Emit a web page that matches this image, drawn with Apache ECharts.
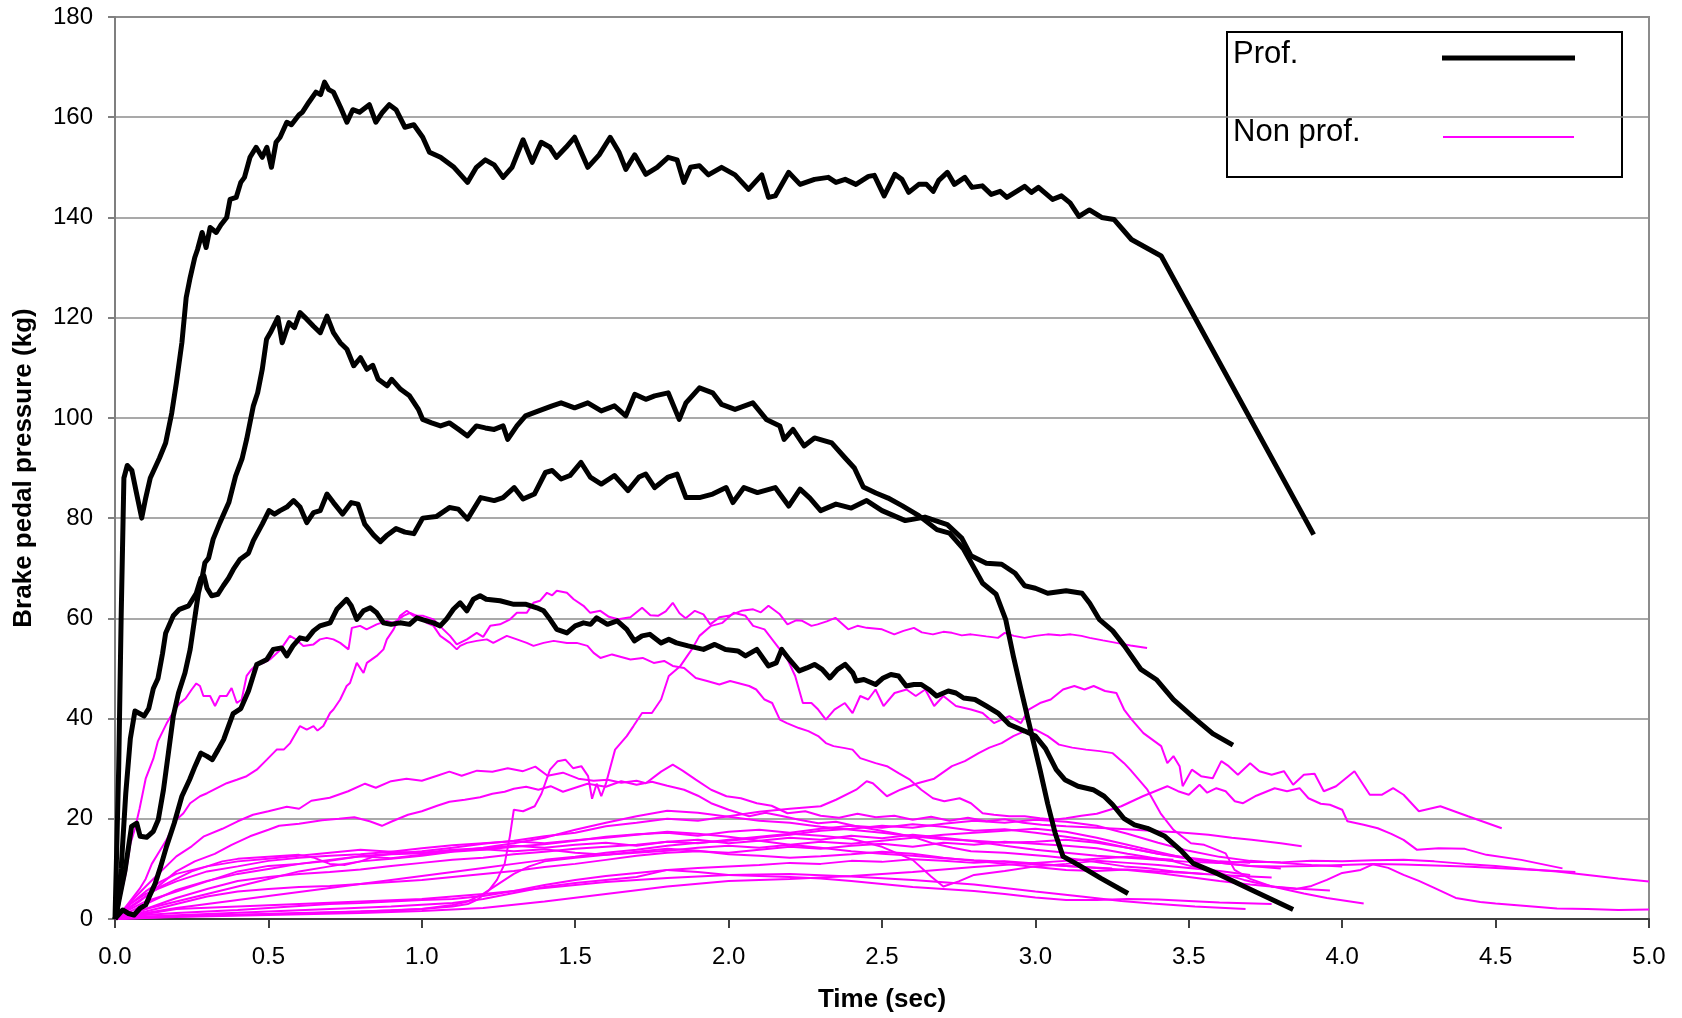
<!DOCTYPE html>
<html>
<head>
<meta charset="utf-8">
<title>Brake pedal pressure</title>
<script src="https://cdn.jsdelivr.net/npm/echarts@6/dist/echarts.min.js"></script>
<style>
html, body { margin: 0; padding: 0; background: #fff; }
#chart { width: 1682px; height: 1018px; }
</style>
</head>
<body>
<div id="chart"></div>
<script>
// time (sec) , pressure (kg) pairs

// professional drivers
var prof1 = [[0,0],[0.005,0],[0.012,30],[0.02,60],[0.029,88],[0.04,90.5],[0.055,89.5],[0.07,85],[0.087,80],[0.1,84],[0.115,88],[0.145,92],[0.165,95],[0.185,101],[0.2,107],[0.218,115],[0.232,124],[0.245,128],[0.26,132],[0.269,133.6],[0.284,137],[0.297,134],[0.31,138],[0.33,137],[0.345,138.5],[0.364,140],[0.375,143.6],[0.395,144],[0.41,147],[0.422,148],[0.44,152],[0.46,154],[0.48,152],[0.495,154],[0.51,150],[0.525,155],[0.538,156],[0.56,159],[0.575,158.5],[0.6,160.5],[0.611,161],[0.632,163],[0.655,165],[0.67,164.5],[0.683,167],[0.697,165.5],[0.712,165],[0.735,162],[0.756,159],[0.775,161.5],[0.797,161],[0.829,162.5],[0.85,159],[0.872,161],[0.894,162.5],[0.916,161.5],[0.945,158],[0.974,158.5],[1.003,156],[1.025,153],[1.061,152],[1.105,150],[1.149,147],[1.178,150],[1.207,151.5],[1.236,150.5],[1.265,148],[1.294,150],[1.33,155.5],[1.36,151],[1.389,155],[1.418,154],[1.439,152],[1.47,154],[1.498,156],[1.541,150],[1.578,152.5],[1.614,156],[1.643,153],[1.665,149.6],[1.694,152.5],[1.73,148.6],[1.767,150],[1.803,152],[1.832,151.5],[1.854,147],[1.876,150],[1.905,150.3],[1.934,148.5],[1.977,150],[2.021,148.5],[2.065,145.6],[2.108,148.5],[2.13,144],[2.152,144.3],[2.196,149],[2.233,146.6],[2.28,147.6],[2.325,148],[2.35,147],[2.38,147.6],[2.415,146.6],[2.456,148.2],[2.475,148.4],[2.507,144.3],[2.542,148.6],[2.565,147.6],[2.587,145],[2.62,146.6],[2.645,146.6],[2.667,145.2],[2.685,147.4],[2.713,149],[2.736,146.6],[2.77,148],[2.793,146],[2.827,146.3],[2.856,144.6],[2.885,145.2],[2.907,144],[2.965,146.2],[2.987,145],[3.01,146],[3.056,143.6],[3.085,144.3],[3.113,142.9],[3.142,140.2],[3.176,141.5],[3.216,140],[3.256,139.6],[3.313,135.6],[3.41,132.3],[3.907,76.7]];
var prof2 = [[0,0],[0.011,3.1],[0.033,9.8],[0.054,18.5],[0.071,19.1],[0.082,16.5],[0.103,16.3],[0.125,17.5],[0.141,19.8],[0.158,25.8],[0.174,33.1],[0.19,40.5],[0.207,45.1],[0.228,49.1],[0.245,53.8],[0.261,60.5],[0.272,65.1],[0.283,67.8],[0.293,71.1],[0.305,72],[0.32,75.8],[0.342,79.1],[0.371,83.1],[0.393,88.4],[0.414,91.8],[0.429,95.7],[0.451,102.4],[0.465,105],[0.48,109.7],[0.494,115.7],[0.509,117.3],[0.531,120],[0.545,115],[0.567,119],[0.585,118],[0.603,121],[0.625,119.7],[0.647,118.3],[0.669,117],[0.691,120.3],[0.712,117],[0.734,115],[0.756,113.7],[0.778,110.4],[0.8,112],[0.821,109.7],[0.84,110.5],[0.858,107.7],[0.887,106.4],[0.902,107.7],[0.931,105.7],[0.96,104.4],[0.989,101.7],[1.003,99.7],[1.032,99],[1.061,98.4],[1.09,99],[1.12,97.7],[1.149,96.4],[1.178,98.4],[1.207,98],[1.236,97.7],[1.265,98.4],[1.28,95.7],[1.31,98.4],[1.338,100.4],[1.381,101.4],[1.425,102.4],[1.454,103],[1.498,102],[1.541,103],[1.585,101.4],[1.628,102.4],[1.665,100.4],[1.694,104.7],[1.73,103.7],[1.759,104.4],[1.803,105],[1.839,99.7],[1.861,103],[1.905,106],[1.948,105],[1.977,102.7],[2.021,101.7],[2.079,103],[2.123,99.7],[2.167,98.4],[2.181,95.7],[2.21,97.7],[2.246,94.4],[2.28,96],[2.336,95],[2.38,92],[2.41,90],[2.439,86.2],[2.48,85],[2.52,84],[2.565,82.5],[2.62,80.5],[2.679,77.7],[2.72,77],[2.766,73.8],[2.828,67],[2.872,64.8],[2.903,59.8],[2.928,52.5],[2.953,45.8],[2.984,37.8],[3.015,29.8],[3.04,23],[3.065,17],[3.09,12.5],[3.14,10.8],[3.214,8.1],[3.302,5.1]];
var prof3 = [[0,0],[0.008,2],[0.02,10],[0.035,25],[0.05,36],[0.065,41.5],[0.08,41],[0.095,40.5],[0.11,42],[0.125,46],[0.14,48],[0.155,53],[0.165,57],[0.19,60.5],[0.21,61.8],[0.24,62.5],[0.265,65],[0.28,68],[0.29,68.5],[0.3,66],[0.315,64.5],[0.335,64.8],[0.353,66.5],[0.37,68],[0.386,69.8],[0.408,71.8],[0.435,73],[0.451,75.5],[0.48,78.8],[0.502,81.5],[0.52,80.8],[0.538,81.5],[0.56,82.2],[0.582,83.5],[0.603,82.2],[0.625,79.1],[0.647,81.1],[0.669,81.5],[0.691,84.8],[0.712,83.1],[0.742,80.8],[0.77,83.1],[0.792,82.8],[0.814,78.8],[0.843,76.6],[0.865,75.3],[0.887,76.6],[0.916,77.9],[0.945,77.2],[0.974,76.9],[1.003,80],[1.047,80.3],[1.09,82.1],[1.119,81.8],[1.149,79.8],[1.192,84.1],[1.236,83.5],[1.265,84.1],[1.301,86.1],[1.33,83.8],[1.367,84.8],[1.403,89.1],[1.425,89.5],[1.454,87.8],[1.483,88.5],[1.519,91.1],[1.549,88.2],[1.585,86.8],[1.628,88.5],[1.672,85.5],[1.708,88.2],[1.73,88.8],[1.759,86.1],[1.803,88.2],[1.832,88.8],[1.861,84.1],[1.905,84.1],[1.948,84.8],[1.992,86.1],[2.014,83.1],[2.05,86.1],[2.094,85.1],[2.152,86.1],[2.196,82.4],[2.233,85.8],[2.265,84],[2.3,81.5],[2.35,82.8],[2.4,82],[2.45,83.5],[2.5,81.5],[2.576,79.5],[2.64,80.2],[2.713,78.7],[2.76,76],[2.79,72.5],[2.84,71],[2.89,70.8],[2.934,69],[2.965,66.5],[3.0,66],[3.04,65],[3.1,65.5],[3.152,65],[3.177,63],[3.208,59.8],[3.252,57.5],[3.29,54.5],[3.344,49.8],[3.394,47.8],[3.45,43.8],[3.52,40],[3.578,37],[3.644,34.7]];
var prof4 = [[0,0],[0.006,0.5],[0.025,1.8],[0.044,1.1],[0.062,0.8],[0.081,2.1],[0.1,2.8],[0.112,4.5],[0.131,7.1],[0.149,10.5],[0.168,14.5],[0.193,19.1],[0.218,24.5],[0.243,27.8],[0.261,30.5],[0.28,33.1],[0.299,32.5],[0.317,31.8],[0.336,33.8],[0.354,35.8],[0.37,38.5],[0.385,41],[0.41,42],[0.435,45.5],[0.462,50.8],[0.495,51.8],[0.516,53.8],[0.543,54.1],[0.56,52.5],[0.58,54.5],[0.603,56.1],[0.625,55.8],[0.647,57.5],[0.668,58.5],[0.701,59.1],[0.723,61.8],[0.739,62.8],[0.755,63.8],[0.77,62.5],[0.788,59.8],[0.81,61.5],[0.832,62.1],[0.853,61.1],[0.875,59.1],[0.9,58.8],[0.929,59.1],[0.96,58.8],[0.984,60.1],[1.01,59.6],[1.038,59.1],[1.06,58.5],[1.08,59.8],[1.103,61.8],[1.125,63.1],[1.147,61.5],[1.168,63.8],[1.19,64.5],[1.21,63.8],[1.255,63.5],[1.3,62.8],[1.34,62.8],[1.375,62.1],[1.397,61.5],[1.418,59.8],[1.44,57.8],[1.473,57.1],[1.5,58.5],[1.527,59.1],[1.55,58.8],[1.57,60.1],[1.605,58.8],[1.637,59.5],[1.668,57.8],[1.693,55.5],[1.718,56.5],[1.743,56.8],[1.78,55.1],[1.805,55.8],[1.83,55.1],[1.868,54.5],[1.918,53.8],[1.955,54.8],[1.99,53.8],[2.03,53.5],[2.055,52.5],[2.092,53.8],[2.13,50.5],[2.155,51.1],[2.173,53.8],[2.198,51.8],[2.23,49.5],[2.255,50.1],[2.28,50.8],[2.305,49.8],[2.33,48.1],[2.355,49.8],[2.38,50.8],[2.405,49.1],[2.416,47.5],[2.441,47.8],[2.479,46.8],[2.504,48.1],[2.529,48.8],[2.554,48.5],[2.579,46.5],[2.604,46.8],[2.628,46.8],[2.653,45.8],[2.678,44.5],[2.716,45.5],[2.741,45.1],[2.766,44.1],[2.803,43.8],[2.84,42.5],[2.878,41.1],[2.915,38.8],[2.965,37.5],[3.0,36.5],[3.033,34],[3.068,29.8],[3.096,27.8],[3.139,26.5],[3.188,25.8],[3.224,24.5],[3.252,22.8],[3.288,20.1],[3.323,18.8],[3.365,18.1],[3.422,16.5],[3.472,13.8],[3.514,11.1],[3.592,9.1],[3.705,5.8],[3.84,1.9]];

// non professional drivers
var non1 = [[0,0],[0.01,2],[0.02,5],[0.035,9],[0.05,15],[0.065,18],[0.08,22],[0.1,28],[0.125,32],[0.14,35.5],[0.168,39],[0.195,41.8],[0.21,43],[0.23,44],[0.25,45.8],[0.265,47],[0.277,46.5],[0.288,44.5],[0.31,44.5],[0.326,42.5],[0.342,44.5],[0.364,44.5],[0.38,46.1],[0.397,43.1],[0.413,43.8],[0.429,48.5],[0.445,49.8],[0.462,50.8],[0.484,51.1],[0.505,51.8],[0.54,53.8],[0.57,56.5],[0.59,55.8],[0.614,54.5],[0.647,54.8],[0.668,55.8],[0.69,56.1],[0.712,55.8],[0.734,55.1],[0.761,53.8],[0.772,58.1],[0.799,58.5],[0.82,57.8],[0.853,58.8],[0.886,59.5],[0.908,59.1],[0.94,60.5],[0.962,61.1],[0.984,60.5],[1.016,59.1],[1.038,58.5],[1.06,56.5],[1.092,55.1],[1.114,53.8],[1.125,54.5],[1.147,55.1],[1.179,55.5],[1.212,55.8],[1.233,55.1],[1.255,55.8],[1.277,56.5],[1.31,55.8],[1.342,55.1],[1.364,54.5],[1.397,55.1],[1.43,55.5],[1.473,55.1],[1.505,55.1],[1.54,54.5],[1.56,53.1],[1.582,52.1],[1.62,52.8],[1.68,51.8],[1.72,52.1],[1.756,51.1],[1.79,51.5],[1.818,50.5],[1.855,50.1],[1.893,48.1],[1.93,47.5],[1.97,46.8],[2.005,47.5],[2.03,47.1],[2.067,46.5],[2.09,45.8],[2.117,43.8],[2.142,43.1],[2.167,39.8],[2.19,39.1],[2.229,38.1],[2.26,37.5],[2.292,36.5],[2.317,35.1],[2.342,34.5],[2.379,34.1],[2.404,33.8],[2.429,32.1],[2.479,31.1],[2.516,30.5],[2.554,29.1],[2.591,27.8],[2.628,25.8],[2.666,24.1],[2.703,23.5],[2.753,24.1],[2.79,23.1],[2.828,21.1],[2.865,20.8],[2.915,20.5],[2.965,20.5],[3.015,20.1],[3.06,19.8],[3.1,20.1],[3.15,20.6],[3.2,21],[3.28,22.5],[3.35,24.5],[3.43,26.5],[3.465,25.5],[3.5,24.8],[3.535,26.8],[3.56,25.2],[3.59,26.1],[3.62,25.5],[3.65,23.5],[3.677,23.1],[3.72,24.6],[3.78,26.1],[3.82,25.5],[3.861,26.1],[3.89,24.1],[3.93,23],[3.96,22.8],[4.0,21.8],[4.017,19.5],[4.07,18.8],[4.116,18.1],[4.16,17],[4.2,15.8],[4.244,13.8],[4.314,14.1],[4.4,14],[4.47,12.8],[4.584,11.8],[4.718,10.1]];
var non2 = [[0,0],[0.015,1],[0.03,2],[0.055,4],[0.08,6],[0.1,8],[0.12,11],[0.15,14],[0.168,15.8],[0.2,19.8],[0.223,21.1],[0.245,23.1],[0.277,24.5],[0.3,25.1],[0.332,26.1],[0.364,27.1],[0.397,27.8],[0.429,28.5],[0.462,29.8],[0.495,31.8],[0.527,33.8],[0.55,33.8],[0.571,35.1],[0.603,38.5],[0.625,37.8],[0.647,38.5],[0.66,37.6],[0.679,38.5],[0.701,41.1],[0.712,41.8],[0.734,43.8],[0.755,46.5],[0.766,47.1],[0.788,51.1],[0.81,49.1],[0.821,51.1],[0.853,52.5],[0.875,53.8],[0.886,55.8],[0.908,57.8],[0.929,60.5],[0.951,61.5],[0.973,60.5],[1.005,60.5],[1.038,59.8],[1.07,57.8],[1.092,56.5],[1.114,54.8],[1.147,55.8],[1.179,57.1],[1.2,56.3],[1.223,58.5],[1.255,58.8],[1.288,59.8],[1.31,61.1],[1.342,61.1],[1.364,63.1],[1.385,63.5],[1.408,65.1],[1.425,64.6],[1.44,65.5],[1.473,65.1],[1.495,63.8],[1.527,62.5],[1.549,61.1],[1.582,61.5],[1.61,60.3],[1.64,59.8],[1.68,60.2],[1.718,62.1],[1.745,60.6],[1.77,60.5],[1.795,61.4],[1.818,63.1],[1.84,61],[1.86,60],[1.89,61.5],[1.918,60.8],[1.94,58.8],[1.97,60.2],[2.0,60.5],[2.042,61.5],[2.08,61.8],[2.105,61.2],[2.13,62.5],[2.167,60.8],[2.192,58.8],[2.22,59.6],[2.24,59.5],[2.27,58.5],[2.29,58.8],[2.32,59.4],[2.348,60.1],[2.39,57.8],[2.42,58.5],[2.45,58.1],[2.5,57.8],[2.54,56.8],[2.57,57.5],[2.604,58.1],[2.63,57.2],[2.666,56.8],[2.7,57.3],[2.728,57.1],[2.76,56.6],[2.79,56.8],[2.84,56.4],[2.878,56.1],[2.9,57.1],[2.93,56.5],[2.965,56.1],[3.0,56.5],[3.04,56.8],[3.08,56.6],[3.115,56.8],[3.15,56.5],[3.177,56.1],[3.22,55.6],[3.264,55.1],[3.31,54.6],[3.364,54.1]];
var non3 = [[0,0],[0.1,0.4],[0.2,0.6],[0.35,0.8],[0.5,1.0],[0.65,1.2],[0.8,1.5],[0.9,1.7],[1.0,2.0],[1.1,2.5],[1.15,3.0],[1.18,3.8],[1.22,5.8],[1.245,7.8],[1.27,11],[1.287,16.5],[1.3,21.8],[1.33,21.5],[1.368,22.5],[1.39,25],[1.418,29.8],[1.443,31.5],[1.468,31.8],[1.493,30.1],[1.52,30.5],[1.542,28.5],[1.555,24],[1.57,27],[1.585,24.5],[1.6,27],[1.63,33.8],[1.668,36.5],[1.69,38.5],[1.718,41.1],[1.75,41.1],[1.78,43.8],[1.805,48.5],[1.843,50.5],[1.88,53.8],[1.905,56.5],[1.943,58.5],[1.98,59.1],[2.017,61.1],[2.055,60.5],[2.08,58.5],[2.117,57.8],[2.142,55.8],[2.167,53.8],[2.192,51.8],[2.217,48.5],[2.242,43.1],[2.27,43.1],[2.292,41.8],[2.317,39.8],[2.345,41.8],[2.379,43.1],[2.404,41.1],[2.429,44.5],[2.455,43.8],[2.479,45.8],[2.505,42.5],[2.541,45.1],[2.58,45.8],[2.61,44.5],[2.641,45.8],[2.67,42.5],[2.7,44.5],[2.741,42.5],[2.79,41.8],[2.828,41.1],[2.865,39.1],[2.915,40.5],[2.953,39.1],[2.978,41.8],[3.015,43.1],[3.05,43.8],[3.09,45.8],[3.127,46.5],[3.16,45.8],[3.19,46.5],[3.227,45.5],[3.264,45.1],[3.289,41.8],[3.314,39.8],[3.352,37.1],[3.41,34.5],[3.43,31.1],[3.45,32.5],[3.47,30.5],[3.48,26.5],[3.51,29.8],[3.54,28.5],[3.578,28.1],[3.606,31.5],[3.63,30.5],[3.66,28.8],[3.7,31.1],[3.73,29.5],[3.77,28.8],[3.81,29.5],[3.84,26.8],[3.875,28.8],[3.91,29],[3.94,25.5],[3.98,26.5],[4.02,28.5],[4.04,29.5],[4.09,24.8],[4.13,24.8],[4.166,26.1],[4.2,24.8],[4.25,21.5],[4.32,22.5],[4.41,20.5],[4.52,18.1]];
var non4 = [[0,0],[0.05,1.5],[0.1,3],[0.2,5.8],[0.3,7.6],[0.4,9],[0.5,10],[0.6,11],[0.7,11.6],[0.8,12.5],[0.9,13],[1.0,13.5],[1.1,14.2],[1.2,15],[1.3,15.6],[1.4,16.5],[1.5,17.2],[1.6,18.5],[1.7,19.2],[1.8,20],[1.9,19.6],[2.0,20.5],[2.1,21.4],[2.2,22],[2.3,22.5],[2.35,23.8],[2.416,25.8],[2.45,27.5],[2.47,27.1],[2.516,24.5],[2.56,25.8],[2.616,27.1],[2.67,28],[2.728,30.5],[2.77,31.5],[2.815,33.1],[2.85,34.2],[2.89,35.1],[2.928,36.5],[2.965,37.5],[3.0,37.8],[3.04,36.5],[3.077,34.8],[3.12,34.2],[3.165,33.8],[3.21,33.5],[3.252,33.1],[3.289,31.1],[3.309,29.8],[3.365,25.8],[3.408,21.1],[3.45,17.8],[3.507,15.1],[3.55,14.8],[3.592,13.8],[3.62,13.1],[3.649,9.8],[3.7,8],[3.77,6.5],[3.85,6.1],[3.96,5.7]];
var non5 = [[0,0],[0.03,2],[0.06,4],[0.1,6.5],[0.15,9.5],[0.2,12.5],[0.25,14.5],[0.29,16.5],[0.35,18],[0.4,19.5],[0.45,20.8],[0.5,21.5],[0.56,22.4],[0.6,22],[0.64,23.6],[0.7,24.2],[0.76,25.5],[0.815,27],[0.85,26.2],[0.9,27.5],[0.95,28],[1.0,27.6],[1.05,28.6],[1.09,29.4],[1.13,28.6],[1.18,29.6],[1.23,29.4],[1.28,30.1],[1.33,29.5],[1.37,30.4],[1.41,28.6],[1.46,29.2],[1.51,28],[1.56,27.6],[1.606,27.8],[1.65,27.2],[1.7,27.6],[1.73,27.1],[1.78,29.4],[1.818,30.8],[1.85,29.6],[1.893,27.8],[1.943,25.8],[1.993,24.5],[2.04,24.1],[2.092,23.1],[2.14,22.6],[2.192,21.1],[2.25,21.5],[2.3,20.6],[2.36,20.2],[2.42,21],[2.48,20.3],[2.54,20.6],[2.6,19.8],[2.66,20.4],[2.72,19.6],[2.78,20.2],[2.84,19.5],[2.9,19.9],[2.96,19.2],[3.02,18.8],[3.1,18.5],[3.2,18.2],[3.3,17.9],[3.4,17.5],[3.465,17.3],[3.564,16.8],[3.64,16.2],[3.705,15.8],[3.8,15.1],[3.868,14.5]];
var non6 = [[0,0],[0.03,1.5],[0.08,3.5],[0.13,6],[0.2,9.5],[0.26,11.5],[0.325,13],[0.38,14.8],[0.44,16.5],[0.5,17.8],[0.535,18.6],[0.6,19],[0.675,19.7],[0.73,20],[0.78,20.3],[0.83,19.5],[0.87,18.6],[0.9,19.4],[0.955,20.8],[1.0,21.5],[1.05,22.6],[1.09,23.4],[1.14,23.8],[1.19,24.3],[1.23,25],[1.27,25.4],[1.3,26],[1.34,26.4],[1.38,25.8],[1.42,26.5],[1.46,25.4],[1.5,26.2],[1.54,27],[1.6,26.4],[1.65,27.5],[1.7,26.8],[1.75,27.4],[1.8,26.6],[1.855,25.8],[1.9,24.6],[1.943,23.1],[2.0,21.8],[2.067,20.5],[2.12,21.2],[2.17,20.6],[2.23,19.8],[2.292,19.1],[2.35,19.4],[2.416,18.5],[2.48,17.8],[2.541,17.1],[2.6,16.4],[2.666,15.1],[2.73,14.2],[2.79,13.5],[2.9,13.2],[3.04,12.5],[3.15,11.8],[3.29,10.5],[3.36,10.2],[3.45,9.5],[3.55,9]];
var non7 = [[0,0],[0.05,3],[0.1,5],[0.2,7.5],[0.3,9.5],[0.4,10.5],[0.5,11.6],[0.6,12.2],[0.7,12.6],[0.8,12.9],[0.9,13.4],[1.0,13.2],[1.1,13.8],[1.2,14.1],[1.3,14.6],[1.4,14.2],[1.5,14.8],[1.6,15.2],[1.7,14.6],[1.8,15.4],[1.9,15.8],[2.0,15.1],[2.1,15.6],[2.2,16.2],[2.3,15.8],[2.4,16.6],[2.5,16.1],[2.6,16.8],[2.7,16.2],[2.8,15.5],[2.9,14.6],[3.0,13.8],[3.1,13.2],[3.2,12.6],[3.3,12.2],[3.4,11.8],[3.5,11.4],[3.6,11.2],[3.7,11.4],[3.8,11.3],[3.9,11.6],[4.0,11.5],[4.1,11.7],[4.2,11.8],[4.3,11.5],[4.4,11],[4.5,10.6],[4.6,10],[4.7,9.5],[4.8,8.8],[4.9,8.1],[5.0,7.5]];
var non8 = [[0,0],[0.05,1],[0.1,2],[0.2,3.5],[0.3,5],[0.4,6.5],[0.5,8],[0.6,9.5],[0.7,10.5],[0.8,11.5],[0.9,12],[1.0,12.6],[1.1,13.4],[1.2,13.8],[1.3,14.4],[1.4,14.9],[1.5,15.6],[1.6,16.4],[1.7,16.9],[1.8,17.2],[1.9,16.6],[2.0,17.4],[2.1,17.8],[2.2,17.2],[2.3,18],[2.4,18.6],[2.5,18.2],[2.6,18.9],[2.7,18.4],[2.8,17.6],[2.9,17.9],[3.0,17.2],[3.1,16.4],[3.2,15.5],[3.3,14.2],[3.4,13],[3.5,12],[3.6,11.2],[3.7,10.6],[3.8,10.5],[3.9,10.6],[4.0,10.8],[4.1,11],[4.2,10.9],[4.3,10.7],[4.4,10.5],[4.5,10.2],[4.6,9.9],[4.76,9.4]];
var non9 = [[0,0],[0.1,0.8],[0.2,1.2],[0.3,1.5],[0.4,1.8],[0.5,2.2],[0.6,2.6],[0.7,3],[0.8,3.2],[0.9,3.5],[1.0,3.8],[1.1,4],[1.2,4.6],[1.3,5.6],[1.4,6.8],[1.5,7.8],[1.6,8.6],[1.7,9.2],[1.8,9.8],[1.9,10.2],[2.0,10.5],[2.1,10.8],[2.2,11.2],[2.3,11],[2.4,11.6],[2.5,11.4],[2.6,11.9],[2.7,11.6],[2.8,11.2],[2.9,11.5],[3.0,11.1],[3.1,10.6],[3.2,10.2],[3.3,9.8],[3.4,9.2],[3.5,8.4],[3.6,7.6],[3.7,6.9],[3.8,6.3],[3.85,6.0],[3.9,6.6],[3.95,7.8],[4.0,9.2],[4.06,9.8],[4.1,10.9],[4.15,10.2],[4.2,8.8],[4.25,7.6],[4.3,6.2],[4.37,4.2],[4.45,3.4],[4.5,3.1],[4.6,2.6],[4.7,2.1],[4.8,2.0],[4.9,1.8],[5.0,1.9]];
var non10 = [[0,0],[0.1,1.5],[0.2,3],[0.3,4.5],[0.4,5.5],[0.5,6],[0.6,6.4],[0.7,6.6],[0.8,7],[0.9,7.4],[1.0,7.8],[1.1,8.4],[1.2,9],[1.3,9.6],[1.4,10.4],[1.5,11],[1.6,11.8],[1.7,12.6],[1.8,13.2],[1.9,13.5],[2.0,13.2],[2.1,13.8],[2.2,14.4],[2.3,14],[2.4,14.6],[2.5,15],[2.6,14.4],[2.7,15.2],[2.8,14.8],[2.9,15.4],[3.0,15],[3.1,14.6],[3.2,14.1],[3.3,13],[3.35,12.5],[3.45,11.5],[3.51,10.5],[3.6,9.2],[3.68,7.8],[3.78,6.4],[3.875,5.1],[3.95,4.2],[4.07,3.1]];
var non11 = [[0,0],[0.1,1],[0.2,2],[0.4,2.5],[0.6,3],[0.8,3.5],[1.0,4],[1.2,5],[1.4,6.2],[1.6,7.4],[1.8,8.2],[2.0,8.8],[2.2,9],[2.4,8.5],[2.6,7.8],[2.8,6.9],[2.9,6.2],[3.0,5.5],[3.15,4.5],[3.28,3.6],[3.38,3.1],[3.52,2.5],[3.685,2.0]];
var non12 = [[0,0],[0.1,0.5],[0.3,1],[0.5,1.5],[0.7,2],[0.9,2.5],[1.1,3.2],[1.2,4],[1.3,5.2],[1.4,6.4],[1.5,7.2],[1.6,7.8],[1.7,8.4],[1.8,9.8],[1.9,9.4],[2.0,8.8],[2.1,8.6],[2.2,8.4],[2.3,8.1],[2.4,7.6],[2.5,7],[2.6,6.4],[2.7,6],[2.8,5.6],[2.9,5],[3.0,4.3],[3.1,3.8],[3.2,3.8],[3.3,4],[3.4,3.9],[3.5,3.6],[3.6,3.3],[3.77,3.0]];
var non13 = [[0,0],[0.05,2.5],[0.1,4.5],[0.15,6.5],[0.2,8],[0.25,9.5],[0.3,10.5],[0.35,11.5],[0.4,12],[0.5,12.4],[0.6,12.8],[0.65,12.2],[0.7,11],[0.75,10.8],[0.8,11.5],[0.85,12.6],[0.9,12.9],[1.0,13.1],[1.1,13.6],[1.2,13.9],[1.3,13.5],[1.4,13.9],[1.5,13.2],[1.6,12.8],[1.7,13.4],[1.8,14],[1.9,13.6],[2.0,12.9],[2.1,12.6],[2.2,12.2],[2.3,12.5],[2.4,12.9],[2.5,13.4],[2.6,13],[2.7,12.2],[2.8,11.6],[2.9,11],[3.0,10.4],[3.1,9.8],[3.2,9.6],[3.3,9.9],[3.4,9.5],[3.5,9.2],[3.6,8.8],[3.77,8.3]];
var non14 = [[0,0],[0.05,3],[0.1,5.5],[0.15,7.5],[0.2,9],[0.3,10.5],[0.4,11.5],[0.5,12],[0.6,12.6],[0.7,13.2],[0.8,13.8],[0.9,13.4],[1.0,14.1],[1.1,14.7],[1.2,15.1],[1.3,15.5],[1.4,15.1],[1.5,15.7],[1.6,16.2],[1.7,16.8],[1.8,17.4],[1.9,17],[2.0,16.4],[2.1,15.6],[2.2,14.8],[2.3,14.2],[2.4,13.5],[2.5,13],[2.6,12.6],[2.7,12.1],[2.8,11.7],[2.9,11.4],[3.0,10.9],[3.1,10.6],[3.25,10.1]];
var non15 = [[0,0],[0.1,2],[0.2,4.2],[0.3,6],[0.4,7.6],[0.5,8.4],[0.6,9],[0.7,9.4],[0.8,9.9],[0.9,10.6],[1.0,11.2],[1.1,11.8],[1.2,12.2],[1.3,12.9],[1.4,13.4],[1.5,14],[1.6,14.4],[1.7,14.8],[1.8,15.4],[1.9,15.1],[2.0,15.8],[2.1,16.4],[2.2,17],[2.3,16.6],[2.4,16],[2.5,14.4],[2.6,11.8],[2.66,8.5],[2.7,6.5],[2.75,7.5],[2.8,8.8],[2.9,9.6],[3.0,10.5],[3.1,11],[3.2,11.6],[3.3,11.2],[3.4,10.8],[3.5,10.2],[3.6,9.6],[3.7,8.8]];
var non16 = [[0,0],[0.1,1.2],[0.2,2.2],[0.3,3],[0.4,3.8],[0.5,4.6],[0.6,5.4],[0.7,6.2],[0.8,7],[0.9,7.8],[1.0,8.6],[1.1,9.4],[1.2,10.2],[1.3,11],[1.4,11.8],[1.5,12.4],[1.6,13.2],[1.7,13.8],[1.8,14.6],[1.9,15.2],[2.0,15.6],[2.1,16.2],[2.2,16.8],[2.3,17.6],[2.4,18],[2.5,18.6],[2.6,18.2],[2.7,19],[2.8,19.6],[2.9,19.2],[3.0,19.8],[3.1,19.4],[3.2,18.6],[3.3,17],[3.4,15.2],[3.5,13.6],[3.6,12.4],[3.7,11.6],[3.8,11.2],[3.9,10.8],[4.0,10.5]];
var non17 = [[0,0],[0.2,0.5],[0.4,0.8],[0.6,1.2],[0.8,1.5],[1.0,2],[1.1,2.8],[1.15,3.5],[1.2,5],[1.25,7],[1.3,9],[1.35,10.5],[1.4,11.5],[1.5,12.2],[1.6,12.8],[1.7,13.2],[1.8,13.6],[1.9,14.2],[2.0,14.6],[2.1,14.2],[2.2,14.8],[2.3,15.4],[2.4,15],[2.5,15.6],[2.6,16.2],[2.7,16.8],[2.8,17.2],[2.9,17.6],[3.0,18],[3.1,17.4],[3.2,16.2],[3.3,14.8],[3.4,13.4],[3.5,12],[3.6,11.2],[3.7,10.6],[3.8,10.1]];
var non18 = [[0,0],[0.05,2],[0.1,3.5],[0.2,5.5],[0.3,7.5],[0.4,9.5],[0.5,10.6],[0.6,11],[0.7,11.8],[0.8,12.5],[0.9,12.1],[1.0,12.8],[1.1,13.5],[1.2,14.2],[1.3,15.1],[1.4,16.2],[1.5,17.8],[1.6,19.2],[1.7,20.5],[1.8,21.6],[1.9,21.2],[2.0,20.4],[2.1,19.6],[2.2,19.2],[2.3,18.4],[2.4,17.8],[2.5,17.2],[2.6,16.5],[2.7,15.9],[2.8,15.6],[2.9,15.2],[3.0,15.4],[3.1,15.8],[3.2,15.2],[3.3,14.2],[3.4,13],[3.5,12.2],[3.6,11.5],[3.7,11.2]];
var non19 = [[0,0],[0.2,0.4],[0.5,0.8],[0.8,1.2],[1.0,1.6],[1.2,2.2],[1.4,3.5],[1.6,5],[1.8,6.5],[2.0,7.6],[2.2,8],[2.4,8.6],[2.6,9.4],[2.8,10.4],[3.0,11.2],[3.2,12],[3.3,12.4],[3.45,11.8]];

var profRuns = [prof1, prof2, prof3, prof4];
var nonProfRuns = [non1, non2, non3, non4, non5, non6, non7, non8, non9, non10,
                   non11, non12, non13, non14, non15, non16, non17, non18, non19];

var xTicks = [0, 0.5, 1, 1.5, 2, 2.5, 3, 3.5, 4, 4.5, 5];
var yTicks = [0, 20, 40, 60, 80, 100, 120, 140, 160, 180];

var font = 'Liberation Sans, Arial, sans-serif';
var chart = echarts.init(document.getElementById('chart'));

var series = [];
nonProfRuns.forEach(function (d) {
    series.push({
        name: 'Non prof.',
        type: 'line',
        data: d,
        showSymbol: false,
        symbol: 'none',
        silent: true,
        lineStyle: { color: '#ff00ff', width: 2 }
    });
});
profRuns.forEach(function (d) {
    series.push({
        name: 'Prof.',
        type: 'line',
        data: d,
        showSymbol: false,
        symbol: 'none',
        silent: true,
        z: 3,
        lineStyle: { color: '#000000', width: 5, join: 'round' }
    });
});

var option = {
    animation: false,
    backgroundColor: '#ffffff',
    textStyle: { fontFamily: font, color: '#000' },
    grid: {
        left: 115, right: 33, top: 17, bottom: 98,
        show: true, borderColor: '#8c8c8c', borderWidth: 2,
        backgroundColor: '#ffffff'
    },
    xAxis: {
        type: 'value',
        min: xTicks[0],
        max: xTicks[xTicks.length - 1],
        interval: 0.5,
        name: 'Time (sec)',
        nameLocation: 'middle',
        nameGap: 68,
        nameTextStyle: { fontSize: 26, fontWeight: 'bold', color: '#000', fontFamily: font },
        axisLine: { lineStyle: { color: '#404040', width: 2 } },
        axisTick: { show: true, length: 9, lineStyle: { color: '#404040', width: 2 } },
        axisLabel: {
            fontSize: 24, color: '#000', margin: 26, fontFamily: font,
            formatter: function (v) { return v.toFixed(1); }
        },
        splitLine: { show: false }
    },
    yAxis: {
        type: 'value',
        min: yTicks[0],
        max: yTicks[yTicks.length - 1],
        interval: 20,
        name: 'Brake pedal pressure (kg)',
        nameLocation: 'middle',
        nameGap: 78,
        nameTextStyle: { fontSize: 26, fontWeight: 'bold', color: '#000', fontFamily: font },
        axisLine: { show: true, lineStyle: { color: '#7f7f7f', width: 2 } },
        axisTick: { show: true, length: 7, lineStyle: { color: '#7f7f7f', width: 2 } },
        axisLabel: { fontSize: 24, color: '#000', margin: 22, fontFamily: font },
        splitLine: { show: true, lineStyle: { color: '#8c8c8c', width: 1.5 } }
    },
    graphic: [
        {
            type: 'group', left: 1226, top: 31, z: 100,
            children: [
                { type: 'rect', shape: { x: 0, y: 0, width: 395, height: 145 },
                  style: { fill: '#fff', stroke: '#000', lineWidth: 2 } },
                { type: 'text', x: 6, y: 22,
                  style: { text: 'Prof.', font: '31px ' + font, fill: '#000', textVerticalAlign: 'middle' } },
                { type: 'line', shape: { x1: 215, y1: 26, x2: 348, y2: 26 },
                  style: { stroke: '#000', lineWidth: 5 } },
                { type: 'text', x: 6, y: 100,
                  style: { text: 'Non prof.', font: '31px ' + font, fill: '#000', textVerticalAlign: 'middle' } },
                { type: 'line', shape: { x1: 216, y1: 105, x2: 347, y2: 105 },
                  style: { stroke: '#ff00ff', lineWidth: 2 } }
            ]
        }
    ],
    series: series
};

chart.setOption(option);
window.addEventListener('resize', function () {
    chart.resize();
});
</script>
</body>
</html>
